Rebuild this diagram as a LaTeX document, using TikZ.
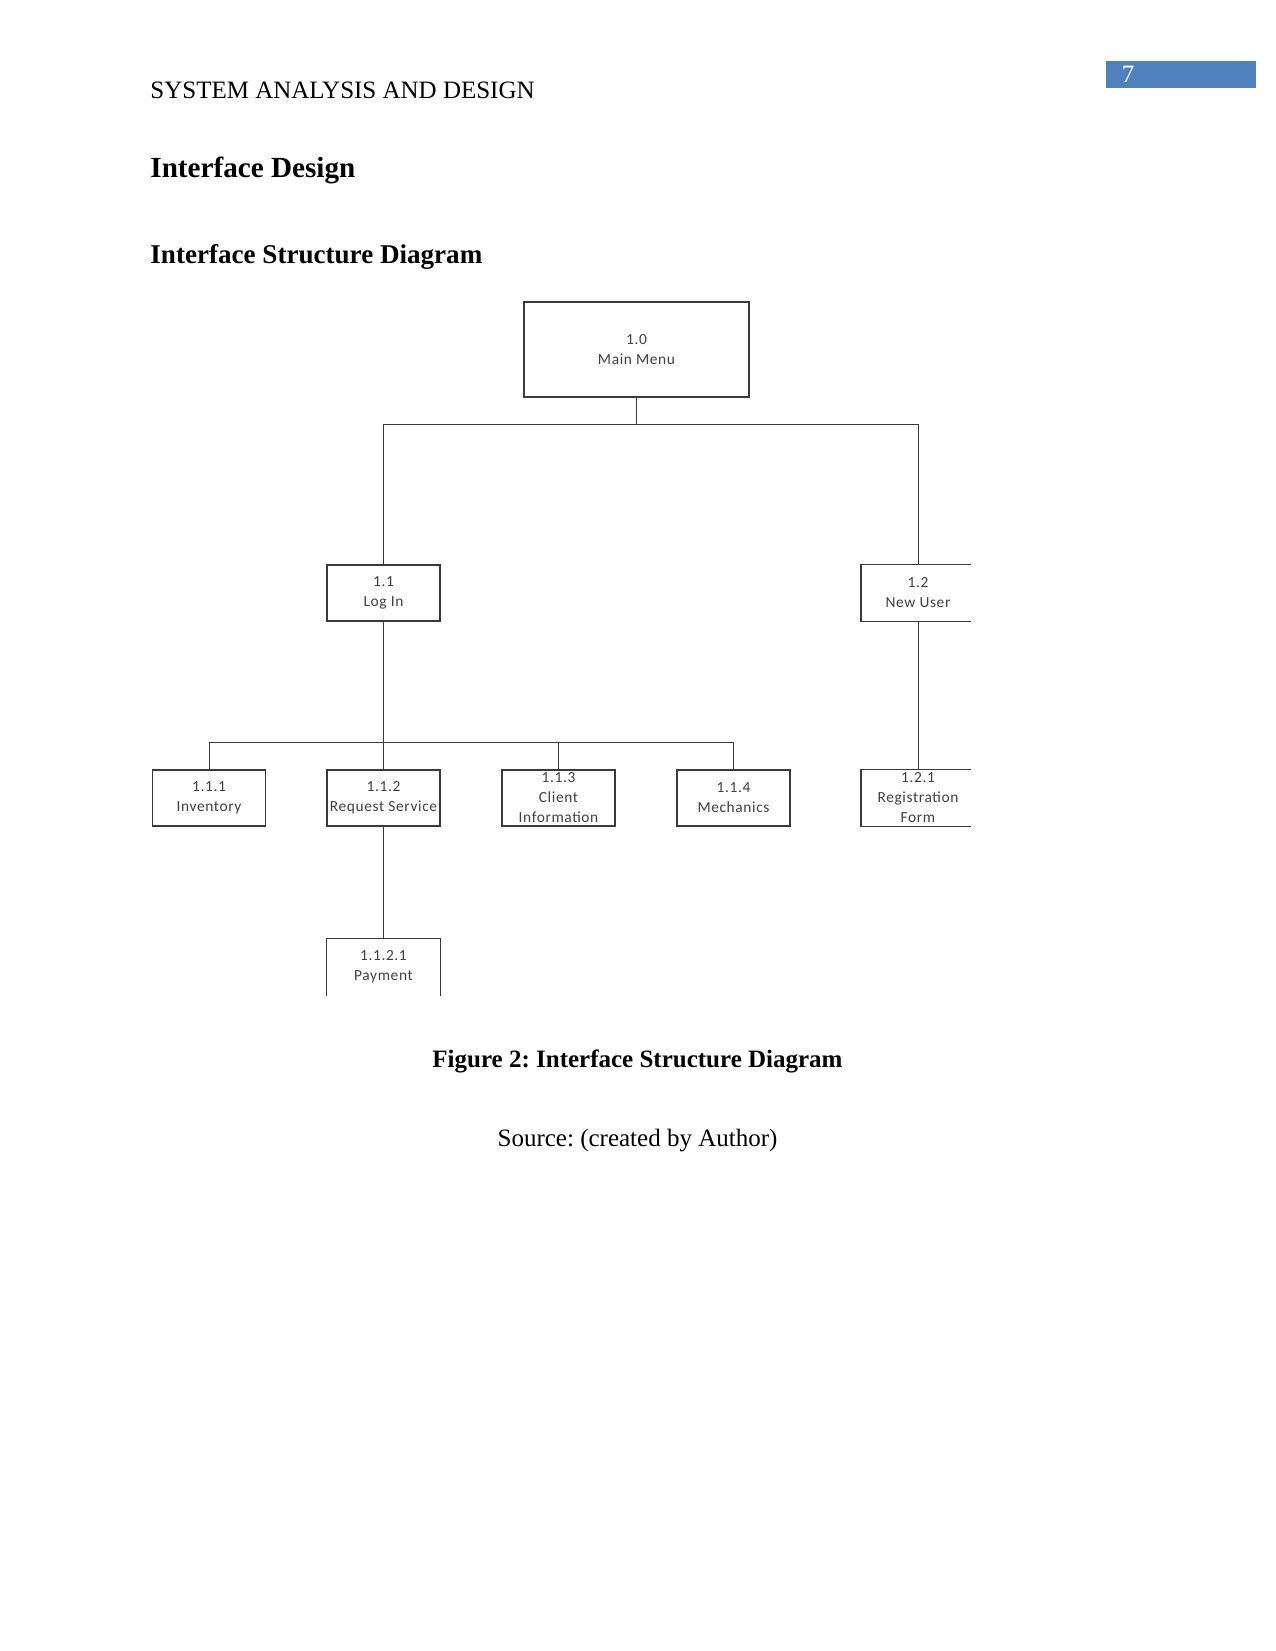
\documentclass[tikz,border=0pt]{standalone}
\usepackage{fontspec}
\setmainfont{Liberation Serif}
\newfontfamily\boxfont[LetterSpace=4]{Carlito}
\definecolor{pagblue}{HTML}{4F81BD}
\definecolor{boxtext}{HTML}{404040}
\definecolor{boxline}{HTML}{3A3A3A}
\frenchspacing
\begin{document}
\begin{tikzpicture}[x=0.48pt,y=-0.48pt,
  box/.style={draw=boxline,line width=0.55pt,inner sep=0pt,minimum width=54.2pt,minimum height=26.9pt,
    align=center,text=boxtext,font=\boxfont\fontsize{7.4}{9.6}\selectfont},
  openbox/.style={box,draw=none},
  conn/.style={draw=boxline,line width=0.45pt}]
\useasboundingbox (0,0) rectangle (1275,1651);
% header
\fill[pagblue] (1106,61) rectangle (1256,88);
\node[text=white,font=\fontsize{12}{14}\selectfont,anchor=base] (pg) at (1128,83) {7};
\node[anchor=base west,inner sep=0pt,font=\fontsize{12}{14}\selectfont] (hdr) at (150,99) {SYSTEM ANALYSIS AND DESIGN};
\node[anchor=base west,inner sep=0pt,font=\fontsize{14}{17}\selectfont\bfseries] (h1) at (150,178) {Interface Design};
\node[anchor=base west,inner sep=0pt,font=\fontsize{13}{16}\selectfont\bfseries] (h2) at (150,263) {Interface Structure Diagram};
% boxes
\node[box,minimum width=108pt,minimum height=45.6pt] (main) at (636.5,349.5) {1.0\\Main Menu};
\node[box] (login) at (383.5,593) {1.1\\Log In};
\node[openbox] (newuser) at (918,593) {1.2\\New User};
\node[box] (inv) at (209,798) {1.1.1\\Inventory};
\node[box] (req) at (383.5,798) {1.1.2\\Request Service};
\node[box] (client) at (558.5,798) {1.1.3\\Client\\Information};
\node[box] (mech) at (733.5,798) {1.1.4\\Mechanics};
\node[openbox] (reg) at (918,798) {1.2.1\\Registration\\Form};
\node[openbox] (pay) at (383.5,967) {1.1.2.1\\Payment};
% clipped borders
\draw[draw=boxline,line width=0.55pt] ([xshift=-1.8pt]newuser.north east) -- (newuser.north west) -- (newuser.south west) -- ([xshift=-1.8pt]newuser.south east);
\draw[draw=boxline,line width=0.55pt] ([xshift=-1.8pt]reg.north east) -- (reg.north west) -- (reg.south west) -- ([xshift=-1.8pt]reg.south east);
\draw[draw=boxline,line width=0.55pt] (pay.south west) -- (pay.north west) -- (pay.north east) -- (pay.south east);
% connectors
\coordinate (j1) at (636.5,424);
\coordinate (j2) at (383.5,742);
\draw[conn] (main.south) -- (j1);
\draw[conn] (login.north) -- (login.north |- j1) -- (newuser.north |- j1) -- (newuser.north);
\draw[conn] (login.south) -- (j2);
\draw[conn] (inv.north) -- (inv.north |- j2) -- (mech.north |- j2) -- (mech.north);
\draw[conn] (req.north) -- (j2);
\draw[conn] (client.north) -- (client.north |- j2);
\draw[conn] (newuser.south) -- (reg.north);
\draw[conn] (req.south) -- (pay.north);
% caption
\node[anchor=base,inner sep=0pt,font=\fontsize{12}{14}\selectfont\bfseries] (cap) at (637.5,1067) {Figure 2: Interface Structure Diagram};
\node[anchor=base,inner sep=0pt,font=\fontsize{12}{14}\selectfont] (src) at (637.5,1146) {Source: (created by Author)};
\end{tikzpicture}
\end{document}
